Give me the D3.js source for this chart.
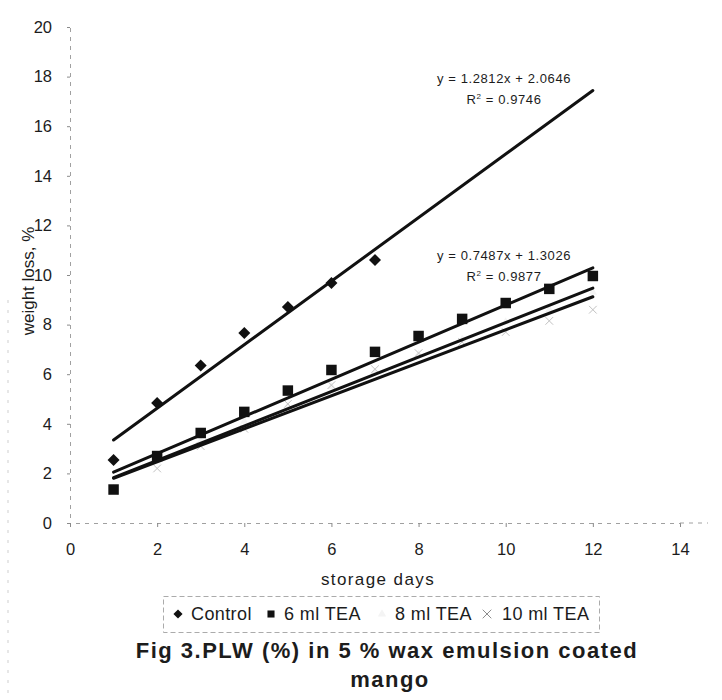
<!DOCTYPE html>
<html>
<head>
<meta charset="utf-8">
<script src="https://cdn.jsdelivr.net/npm/d3@7"></script>
<style>
  html, body { margin: 0; padding: 0; background: #fff; }
  svg { display: block; }
  text { font-family: "Liberation Sans", Arial, sans-serif; }
</style>
</head>
<body>
<script>
// Storage days and percentage weight loss for each wax-emulsion treatment
const days = [1, 2, 3, 4, 5, 6, 7, 8, 9, 10, 11, 12];
const controlDays = [1, 2, 3, 4, 5, 6, 7];
const control = [2.54, 4.84, 6.35, 7.66, 8.71, 9.68, 10.6];
const tea6 = [1.35, 2.7, 3.63, 4.48, 5.34, 6.17, 6.9, 7.54, 8.23, 8.87, 9.44, 9.96];
const tea8 = [1.4, 2.5, 3.3, 4.1, 4.7, 5.5, 6.1, 6.8, 7.4, 8.1, 8.6, 9.3];
const tea10 = [1.3, 2.2, 3.1, 3.8, 4.8, 5.56, 6.2, 6.85, 7.3, 7.7, 8.15, 8.6];

// Linear trendline coefficients shown on the chart
const controlFit = { slope: 1.2812, intercept: 2.0646, r2: 0.9746 };
const tea6Fit = { slope: 0.7487, intercept: 1.3026, r2: 0.9877 };

const xTicks = [0, 2, 4, 6, 8, 10, 12, 14];
const yTicks = [0, 2, 4, 6, 8, 10, 12, 14, 16, 18, 20];
const legendNames = ["Control", "6 ml TEA", "8 ml TEA", "10 ml TEA"];

const W = 722, H = 700;
const ink = "#1c1c1c";
const svg = d3.select("body").append("svg").attr("width", W).attr("height", H);

const x = d3.scaleLinear().domain([0, 14]).range([70, 680]);
const y = d3.scaleLinear().domain([0, 20]).range([523, 27]);

// least-squares fit for the series without a printed equation
function fit(xs, ys) {
  const mx = d3.mean(xs), my = d3.mean(ys);
  const sxy = d3.sum(xs, (v, i) => (v - mx) * (ys[i] - my));
  const sxx = d3.sum(xs, v => (v - mx) * (v - mx));
  const slope = sxy / sxx;
  return { slope, intercept: my - slope * mx };
}
const tea8Fit = fit(days, tea8);
const tea10Fit = fit(days, tea10);

// faint outer frame edge on the left
svg.append("line")
  .attr("x1", 8).attr("x2", 8).attr("y1", 300).attr("y2", 700)
  .attr("stroke", "#cfcfcf").attr("stroke-width", 1).attr("stroke-dasharray", "3,7");

// axes
const yAxis = svg.append("g")
  .attr("transform", `translate(${x(0)},0)`)
  .call(d3.axisLeft(y).tickValues(yTicks).tickSize(3).tickPadding(15).tickFormat(d3.format("d")));
const xAxis = svg.append("g")
  .attr("transform", `translate(0,${y(0)})`)
  .call(d3.axisBottom(x).tickValues(xTicks).tickSize(4).tickPadding(16).tickFormat(d3.format("d")));

[yAxis, xAxis].forEach(g => {
  g.select(".domain").attr("stroke", "#a0a0a0").attr("stroke-dasharray", "4,5").attr("stroke-width", 1);
  g.selectAll(".tick line").attr("stroke", "#8a8a8a");
  g.selectAll(".tick text").attr("fill", ink)
    .style("font-size", "16.5px").style("font-family", "'Liberation Sans', Arial, sans-serif");
});
// bottom axis line continues past the last tick to the plot edge
svg.append("line")
  .attr("x1", x(14)).attr("x2", 708).attr("y1", y(0)).attr("y2", y(0))
  .attr("stroke", "#a0a0a0").attr("stroke-dasharray", "4,5");

// axis titles
svg.append("text")
  .attr("transform", "translate(34,281) rotate(-90)")
  .attr("text-anchor", "middle")
  .attr("fill", ink).style("font-size", "17px")
  .text("weight loss, %");
svg.append("text")
  .attr("x", 378).attr("y", 585)
  .attr("text-anchor", "middle")
  .attr("fill", ink).style("font-size", "17px").style("letter-spacing", "1.4px")
  .text("storage days");

// markers for the lighter series
const tri = d3.symbol().type(d3.symbolTriangle).size(30);
svg.append("g").selectAll("path").data(days).join("path")
  .attr("transform", (d, i) => `translate(${x(d)},${y(tea8[i])})`)
  .attr("d", tri)
  .attr("fill", "#f4f4f4");
const cross = d3.symbol().type(d3.symbolX).size(40);
svg.append("g").selectAll("path").data(days).join("path")
  .attr("transform", (d, i) => `translate(${x(d)},${y(tea10[i])})`)
  .attr("d", cross)
  .attr("fill", "none").attr("stroke", "#c2c2c2").attr("stroke-width", 1);

// trendlines
const trendlines = [controlFit, tea6Fit, tea8Fit, tea10Fit];
svg.append("g").selectAll("line").data(trendlines).join("line")
  .attr("x1", x(1)).attr("x2", x(12))
  .attr("y1", d => y(d.slope * 1 + d.intercept))
  .attr("y2", d => y(d.slope * 12 + d.intercept))
  .attr("stroke", "#111").attr("stroke-width", 3).attr("stroke-linecap", "round");

// dark markers: diamonds (square turned 45 degrees) and squares
const diamondPath = d3.symbol().type(d3.symbolSquare).size(72)();
svg.append("g").selectAll("path").data(controlDays).join("path")
  .attr("transform", (d, i) => `translate(${x(d)},${y(control[i])}) rotate(45)`)
  .attr("d", diamondPath).attr("fill", "#111");
const square = d3.symbol().type(d3.symbolSquare).size(110);
svg.append("g").selectAll("path").data(days).join("path")
  .attr("transform", (d, i) => `translate(${x(d)},${y(tea6[i])})`)
  .attr("d", square).attr("fill", "#111");

// trendline equations
function equation(f, cx, by) {
  const g = svg.append("g").attr("fill", ink).style("font-size", "13px").style("letter-spacing", "0.6px");
  g.append("text").attr("x", cx).attr("y", by).attr("text-anchor", "middle")
    .text(`y = ${f.slope.toFixed(4)}x + ${f.intercept.toFixed(4)}`);
  const r = g.append("text").attr("x", cx).attr("y", by + 21).attr("text-anchor", "middle");
  r.append("tspan").text("R");
  r.append("tspan").attr("dy", -5).style("font-size", "8px").text("2");
  r.append("tspan").attr("dy", 5).text(` = ${f.r2.toFixed(4)}`);
}
equation(controlFit, 504, 83);
equation(tea6Fit, 504, 260);

// legend
const legend = svg.append("g");
legend.append("rect")
  .attr("x", 163.5).attr("y", 596.5).attr("width", 436).attr("height", 36)
  .attr("fill", "none").attr("stroke", "#ababab").attr("stroke-dasharray", "5,3");
const legendItems = [
  { name: legendNames[0], mx: 178, tx: 191 },
  { name: legendNames[1], mx: 271, tx: 284 },
  { name: legendNames[2], mx: 382, tx: 395 },
  { name: legendNames[3], mx: 487, tx: 502 }
];
const lm = legend.selectAll("g.item").data(legendItems).join("g")
  .attr("transform", d => `translate(${d.mx},614)`);
lm.filter((d, i) => i === 0).append("path")
  .attr("d", d3.symbol().type(d3.symbolSquare).size(42)()).attr("transform", "rotate(45)").attr("fill", "#111");
lm.filter((d, i) => i === 1).append("path")
  .attr("d", d3.symbol().type(d3.symbolSquare).size(50)()).attr("fill", "#111");
lm.filter((d, i) => i === 2).append("path")
  .attr("d", tri()).attr("fill", "#f4f4f4");
lm.filter((d, i) => i === 3).append("path")
  .attr("d", d3.symbol().type(d3.symbolX).size(50)())
  .attr("fill", "none").attr("stroke", "#8c8c8c").attr("stroke-width", 1);
legend.selectAll("text").data(legendItems).join("text")
  .attr("x", d => d.tx).attr("y", 620)
  .attr("fill", ink).style("font-size", "18px").style("letter-spacing", "0.4px")
  .text(d => d.name);

// figure caption
const cap = svg.append("g").attr("fill", ink)
  .style("font-size", "22px").style("font-weight", "bold").style("letter-spacing", "1.5px");
cap.append("text").attr("x", 387).attr("y", 658).attr("text-anchor", "middle")
  .text("Fig 3.PLW (%) in 5 % wax emulsion coated");
cap.append("text").attr("x", 390).attr("y", 687).attr("text-anchor", "middle")
  .text("mango");
</script>
</body>
</html>
